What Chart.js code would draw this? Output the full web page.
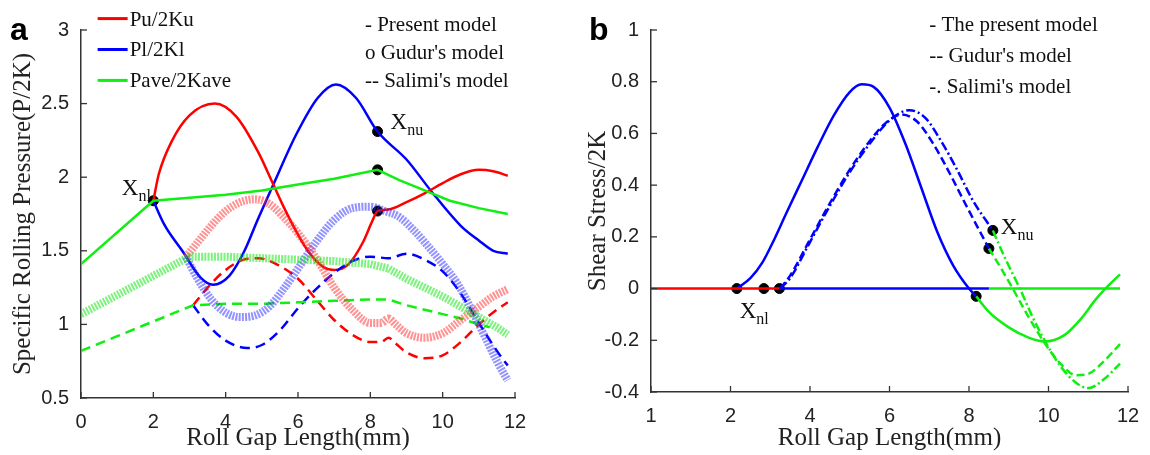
<!DOCTYPE html>
<html>
<head>
<meta charset="utf-8">
<script src="https://cdn.jsdelivr.net/npm/chart.js@4.4.0/dist/chart.umd.min.js"></script>
<style>
  html, body { margin: 0; padding: 0; background: #fff; }
  #wrap { position: relative; width: 1150px; height: 455px; overflow: hidden; }
  .panel { position: absolute; top: 0; width: 575px; height: 455px; }
</style>
</head>
<body>
<div id="wrap">
  <div class="panel" style="left:0"><canvas id="chartA" width="575" height="455"></canvas></div>
  <div class="panel" style="left:575px"><canvas id="chartB" width="575" height="455"></canvas></div>
</div>
<script>
// ---- panel a: specific rolling pressure ----
const aTicksX = [0, 2, 4, 6, 8, 10, 12];
const aTicksY = [0.5, 1, 1.5, 2, 2.5, 3];
const aTickLabelsY = ['0.5', '1', '1.5', '2', '2.5', '3'];

// present model (solid)
const aRedX = [2.0, 2.15, 2.5, 3.0, 3.7, 4.3, 4.9, 5.3, 5.6, 6.0, 6.3, 6.7, 7.0, 7.4, 7.8, 8.05, 8.2, 8.5, 9.0, 9.5, 10.0, 10.5, 11.0, 11.4, 11.8];
const aRedY = [1.84, 2.02, 2.24, 2.42, 2.50, 2.41, 2.17, 1.96, 1.80, 1.61, 1.49, 1.39, 1.37, 1.41, 1.56, 1.70, 1.77, 1.78, 1.83, 1.89, 1.96, 2.02, 2.05, 2.04, 2.01];
const aBlueX = [2.0, 2.3, 2.8, 3.3, 3.65, 4.1, 4.5, 4.9, 5.3, 5.95, 6.55, 7.05, 7.6, 8.2, 9.0, 9.7, 10.5, 11.0, 11.4, 11.8];
const aBlueY = [1.84, 1.68, 1.50, 1.32, 1.27, 1.33, 1.49, 1.72, 1.94, 2.29, 2.54, 2.63, 2.54, 2.31, 2.12, 1.90, 1.67, 1.57, 1.50, 1.48];
const aGreenX = [0, 2.0, 3.0, 4.0, 5.0, 6.0, 7.0, 8.2, 8.8, 9.5, 10.2, 11.0, 11.8];
const aGreenY = [1.41, 1.84, 1.86, 1.88, 1.91, 1.95, 1.99, 2.05, 1.98, 1.91, 1.84, 1.79, 1.75];

// Gudur's model (circles)
const aRedOX = [2.9, 3.2, 3.6, 4.0, 4.4, 4.8, 5.2, 5.6, 6.0, 6.5, 7.0, 7.5, 8.0, 8.3, 8.5, 8.7, 9.0, 9.5, 10.0, 10.5, 11.0, 11.4, 11.8];
const aRedOY = [1.46, 1.55, 1.67, 1.77, 1.83, 1.85, 1.82, 1.73, 1.62, 1.45, 1.25, 1.10, 1.01, 1.01, 1.04, 1.00, 0.94, 0.91, 0.94, 1.03, 1.12, 1.19, 1.24];
const aBlueOX = [2.9, 3.2, 3.6, 4.0, 4.4, 4.8, 5.2, 5.6, 6.0, 6.5, 7.0, 7.5, 8.0, 8.4, 8.8, 9.2, 9.6, 10.0, 10.4, 10.8, 11.2, 11.5, 11.8];
const aBlueOY = [1.46, 1.32, 1.17, 1.08, 1.05, 1.06, 1.12, 1.24, 1.38, 1.56, 1.71, 1.79, 1.80, 1.77, 1.73, 1.64, 1.53, 1.41, 1.28, 1.10, 0.90, 0.75, 0.62];
const aGreenOX = [0, 1, 2, 3.0, 4, 5, 6, 7, 8, 8.5, 9, 9.5, 10, 10.5, 11, 11.5, 11.8];
const aGreenOY = [1.07, 1.20, 1.33, 1.46, 1.46, 1.45, 1.44, 1.43, 1.41, 1.38, 1.31, 1.25, 1.19, 1.12, 1.05, 0.98, 0.93];

// Salimi's model (dashed)
const aRedDX = [3.1, 3.5, 4.0, 4.5, 4.9, 5.4, 6.0, 6.5, 7.0, 7.5, 8.0, 8.3, 8.5, 8.7, 9.0, 9.5, 10.0, 10.5, 11.0, 11.5, 11.8];
const aRedDY = [1.13, 1.25, 1.37, 1.44, 1.45, 1.41, 1.31, 1.17, 1.03, 0.93, 0.88, 0.88, 0.91, 0.87, 0.81, 0.77, 0.79, 0.88, 1.00, 1.10, 1.15];
const aBlueDX = [3.1, 3.5, 4.0, 4.6, 5.0, 5.5, 6.0, 6.5, 7.0, 7.5, 8.0, 8.5, 9.0, 9.5, 10.0, 10.5, 11.0, 11.5, 11.8];
const aBlueDY = [1.13, 1.00, 0.89, 0.84, 0.86, 0.96, 1.11, 1.24, 1.35, 1.43, 1.46, 1.45, 1.48, 1.44, 1.36, 1.21, 1.01, 0.82, 0.72];
const aGreenDX = [0, 1, 2, 3.1, 4, 5, 6, 7, 8, 8.5, 9, 9.5, 10, 10.5, 11, 11.3];
const aGreenDY = [0.82, 0.92, 1.02, 1.13, 1.14, 1.14, 1.15, 1.16, 1.17, 1.17, 1.13, 1.10, 1.07, 1.04, 1.00, 0.98];

// neutral points
const aDotX = [2.0, 8.2, 8.2, 8.2];
const aDotY = [1.84, 2.31, 2.05, 1.77];

// ---- panel b: shear stress ----
const bTicksX = [0, 2, 4, 6, 8, 10, 12];
const bTickLabelsX = ['1', '2', '4', '6', '8', '10', '12'];
const bTicksY = [-0.4, -0.2, 0, 0.2, 0.4, 0.6, 0.8, 1];
const bTickLabelsY = ['-0.4', '-0.2', '0', '0.2', '0.4', '0.6', '0.8', '1'];

const bZeroRedX = [0, 3.23];
const bZeroBlueX = [3.23, 8.5];
const bZeroGreenX = [8.5, 11.8];
const bZeroY = [0, 0];

const bBlueX = [2.16, 2.5, 2.8, 3.1, 3.4, 3.8, 4.2, 4.6, 5.0, 5.3, 5.6, 6.0, 6.4, 6.8, 7.2, 7.6, 8.0, 8.18];
const bBlueY = [0, 0.04, 0.10, 0.19, 0.29, 0.42, 0.55, 0.67, 0.76, 0.79, 0.78, 0.70, 0.56, 0.39, 0.22, 0.09, 0.0, -0.03];
const bGreenX = [8.18, 8.5, 9.0, 9.5, 9.9, 10.4, 10.8, 11.2, 11.5, 11.8];
const bGreenY = [-0.03, -0.09, -0.15, -0.19, -0.205, -0.18, -0.12, -0.04, 0.01, 0.055];

const bBlueGX = [3.25, 3.5, 4.0, 4.5, 5.0, 5.5, 5.9, 6.3, 6.7, 7.1, 7.5, 7.9, 8.5];
const bBlueGY = [0, 0.05, 0.19, 0.33, 0.46, 0.57, 0.64, 0.673, 0.645, 0.56, 0.45, 0.33, 0.155];
const bGreenGX = [8.5, 8.8, 9.1, 9.5, 9.9, 10.3, 10.7, 11.0, 11.4, 11.8];
const bGreenGY = [0.155, 0.08, 0.0, -0.11, -0.21, -0.29, -0.335, -0.33, -0.28, -0.215];

const bBlueSX = [3.25, 3.5, 4.0, 4.5, 5.0, 5.5, 6.0, 6.5, 6.9, 7.3, 7.7, 8.1, 8.6];
const bBlueSY = [0, 0.04, 0.18, 0.32, 0.45, 0.56, 0.65, 0.69, 0.66, 0.57, 0.46, 0.34, 0.225];
const bGreenSX = [8.6, 8.9, 9.28, 9.6, 9.9, 10.3, 10.7, 11.0, 11.4, 11.8];
const bGreenSY = [0.225, 0.12, 0.0, -0.11, -0.2, -0.3, -0.365, -0.385, -0.35, -0.29];

const bDotX = [2.16, 2.84, 3.23, 8.18, 8.5, 8.6];
const bDotY = [0, 0, 0, -0.03, 0.155, 0.225];

const RED = '#ff0000', BLUE = '#0000ff', GREEN = '#11ee11';
const SERIF = "'Liberation Serif', 'Times New Roman', serif";
const SANS = "'Liberation Sans', Arial, sans-serif";

function pts(xs, ys) {
  return xs.map((x, i) => ({ x: x, y: ys[i] }));
}

function solid(xs, ys, color, smooth) {
  return {
    data: pts(xs, ys), borderColor: color, borderWidth: 2.5, pointRadius: 0,
    cubicInterpolationMode: smooth ? 'monotone' : 'default', tension: 0
  };
}
function dashed(xs, ys, color, dash, smooth) {
  const d = solid(xs, ys, color, smooth);
  d.borderDash = dash;
  return d;
}
function circles(xs, ys, rgba, smooth) {
  return {
    data: pts(xs, ys), borderColor: rgba, borderWidth: 8, borderDash: [2, 1.2], pointRadius: 0,
    cubicInterpolationMode: smooth ? 'monotone' : 'default', tension: 0
  };
}
function dots(xs, ys) {
  return { data: pts(xs, ys), showLine: false, pointRadius: 5, pointBackgroundColor: '#000', pointBorderColor: '#000', borderColor: '#000' };
}

// inward ticks plus in-plot text (legends, X_nl / X_nu, panel letter)
const overlay = {
  id: 'overlay',
  afterDraw(chart, args, opts) {
    const { ctx, chartArea: a, scales: { x, y } } = chart;
    ctx.save();
    ctx.strokeStyle = '#333';
    ctx.lineWidth = 1.3;
    x.ticks.forEach(t => {
      const px = x.getPixelForValue(t.value);
      ctx.beginPath(); ctx.moveTo(px, a.bottom); ctx.lineTo(px, a.bottom - 6); ctx.stroke();
    });
    y.ticks.forEach(t => {
      const py = y.getPixelForValue(t.value);
      ctx.beginPath(); ctx.moveTo(a.left, py); ctx.lineTo(a.left + 6, py); ctx.stroke();
    });
    ctx.textBaseline = 'alphabetic';
    (opts.legend || []).forEach(l => {
      const px = x.getPixelForValue(l.x), py = y.getPixelForValue(l.y);
      if (l.color) {
        ctx.strokeStyle = l.color; ctx.lineWidth = 3;
        ctx.beginPath(); ctx.moveTo(px, py - 7); ctx.lineTo(px + l.len, py - 7); ctx.stroke();
      }
      ctx.fillStyle = '#111';
      ctx.font = '21px ' + SERIF;
      ctx.fillText(l.text, px + (l.color ? l.len + 2 : 0), py);
    });
    (opts.marks || []).forEach(m => {
      const px = x.getPixelForValue(m.x), py = y.getPixelForValue(m.y);
      ctx.fillStyle = '#111';
      ctx.font = '23px ' + SERIF;
      ctx.fillText(m.main, px, py);
      const w = ctx.measureText(m.main).width;
      ctx.font = '16px ' + SERIF;
      ctx.fillText(m.sub, px + w, py + 6);
    });
    if (opts.letter) {
      ctx.fillStyle = '#000';
      ctx.font = 'bold 32px ' + SANS;
      ctx.fillText(opts.letter, opts.letterX, opts.letterY);
    }
    ctx.restore();
  }
};

function axisOpts(min, max, ticks, labels, title, fit) {
  return {
    type: 'linear', min: min, max: max,
    afterBuildTicks: s => { s.ticks = ticks.map(v => ({ value: v })); },
    afterFit: fit,
    grid: { display: false },
    border: { display: true, color: '#333', width: 1.5 },
    ticks: {
      color: '#222', font: { family: SANS, size: 20 }, padding: 4,
      callback: v => labels[ticks.indexOf(v)]
    },
    title: { display: true, text: title, color: '#222', font: { family: SERIF, size: 25 }, padding: { top: 8, bottom: 2 } }
  };
}

new Chart(document.getElementById('chartA').getContext('2d'), {
  type: 'line',
  data: {
    datasets: [
      circles(aGreenOX, aGreenOY, 'rgba(20,230,20,0.55)', false),
      circles(aRedOX, aRedOY, 'rgba(255,40,40,0.5)', true),
      circles(aBlueOX, aBlueOY, 'rgba(40,40,255,0.5)', true),
      dashed(aGreenDX, aGreenDY, GREEN, [10, 6], false),
      dashed(aRedDX, aRedDY, RED, [10, 6], true),
      dashed(aBlueDX, aBlueDY, BLUE, [10, 6], true),
      solid(aGreenX, aGreenY, GREEN, false),
      solid(aRedX, aRedY, RED, true),
      solid(aBlueX, aBlueY, BLUE, true),
      dots(aDotX, aDotY)
    ]
  },
  options: {
    responsive: false,
    animation: false,
    layout: { padding: { top: 30, right: 60, left: 0, bottom: 0 } },
    plugins: {
      legend: { display: false },
      tooltip: { enabled: false },
      overlay: {
        legend: [
          { x: 0.46, y: 3.03, len: 30, color: RED, text: 'Pu/2Ku' },
          { x: 0.46, y: 2.82, len: 30, color: BLUE, text: 'Pl/2Kl' },
          { x: 0.46, y: 2.61, len: 30, color: GREEN, text: 'Pave/2Kave' },
          { x: 7.85, y: 2.99, text: '- Present model' },
          { x: 7.85, y: 2.80, text: "o Gudur's model" },
          { x: 7.85, y: 2.61, text: "-- Salimi's model" }
        ],
        marks: [
          { x: 1.13, y: 1.88, main: 'X', sub: 'nl' },
          { x: 8.56, y: 2.33, main: 'X', sub: 'nu' }
        ],
        letter: 'a', letterX: 10, letterY: 40
      }
    },
    scales: {
      x: axisOpts(0, 12, aTicksX, aTicksX.map(String), 'Roll Gap Length(mm)', s => { s.height = 57; }),
      y: axisOpts(0.5, 3, aTicksY, aTickLabelsY, 'Specific Rolling Pressure(P/2K)', s => { s.width = 81; })
    }
  },
  plugins: [overlay]
});

new Chart(document.getElementById('chartB').getContext('2d'), {
  type: 'line',
  data: {
    datasets: [
      solid(bZeroRedX, bZeroY, RED, false),
      solid(bZeroBlueX, bZeroY, BLUE, false),
      solid(bZeroGreenX, bZeroY, GREEN, false),
      dashed(bBlueGX, bBlueGY, BLUE, [8, 4], true),
      dashed(bGreenGX, bGreenGY, GREEN, [8, 4], true),
      dashed(bBlueSX, bBlueSY, BLUE, [9, 3, 2, 3], true),
      dashed(bGreenSX, bGreenSY, GREEN, [9, 3, 2, 3], true),
      solid(bBlueX, bBlueY, BLUE, true),
      solid(bGreenX, bGreenY, GREEN, true),
      dots(bDotX, bDotY)
    ]
  },
  options: {
    responsive: false,
    animation: false,
    layout: { padding: { top: 30, right: 22, left: 0, bottom: 0 } },
    plugins: {
      legend: { display: false },
      tooltip: { enabled: false },
      overlay: {
        legend: [
          { x: 7.0, y: 0.995, text: '- The present model' },
          { x: 7.0, y: 0.875, text: "-- Gudur's model" },
          { x: 7.0, y: 0.755, text: "-. Salimi's model" }
        ],
        marks: [
          { x: 2.23, y: -0.113, main: 'X', sub: 'nl' },
          { x: 8.8, y: 0.21, main: 'X', sub: 'nu' }
        ],
        letter: 'b', letterX: 14, letterY: 40
      }
    },
    scales: {
      x: axisOpts(0, 12, bTicksX, bTickLabelsX, 'Roll Gap Length(mm)', s => { s.height = 63; }),
      y: axisOpts(-0.4, 1, bTicksY, bTickLabelsY, 'Shear Stress/2K', s => { s.width = 76; })
    }
  },
  plugins: [overlay]
});
</script>
</body>
</html>
